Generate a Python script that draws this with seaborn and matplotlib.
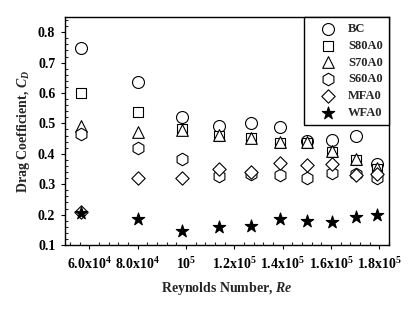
import numpy as np
import pandas as pd
import matplotlib
matplotlib.use("Agg")
import matplotlib.pyplot as plt
from matplotlib.ticker import MultipleLocator, FixedLocator
import seaborn as sns

# ---- data ----
reynolds = [56600, 80000, 98300, 113500, 126800, 138800, 150000, 160300, 170200, 179000]
cd_bc    = [0.749, 0.635, 0.522, 0.491, 0.501, 0.487, 0.441, 0.447, 0.459, 0.365]
cd_s80a0 = [0.600, 0.536, 0.480, 0.459, 0.451, 0.436, 0.437, 0.407, 0.380, 0.350]
cd_s70a0 = [0.491, 0.473, 0.478, 0.462, 0.452, 0.440, 0.440, 0.410, 0.383, 0.352]
cd_s60a0 = [0.464, 0.420, 0.383, 0.327, 0.333, 0.330, 0.319, 0.336, 0.332, 0.322]
cd_mfa0  = [0.210, 0.321, 0.319, 0.349, 0.341, 0.369, 0.363, 0.365, 0.330, 0.334]
cd_wfa0  = [0.205, 0.185, 0.146, 0.160, 0.162, 0.186, 0.180, 0.177, 0.191, 0.199]

series_names = ["BC", "S80A0", "S70A0", "S60A0", "MFA0", "WFA0"]
series_vals = [cd_bc, cd_s80a0, cd_s70a0, cd_s60a0, cd_mfa0, cd_wfa0]

xtick_vals = [60000, 80000, 100000, 120000, 140000, 160000, 180000]
xtick_labels = [r"6.0x10$^{4}$", r"8.0x10$^{4}$", r"10$^{5}$", r"1.2x10$^{5}$",
                r"1.4x10$^{5}$", r"1.6x10$^{5}$", r"1.8x10$^{5}$"]
ytick_vals = [0.1, 0.2, 0.3, 0.4, 0.5, 0.6, 0.7, 0.8]
ytick_labels = ["0.1", "0.2", "0.3", "0.4", "0.5", "0.6", "0.7", "0.8"]

# ---- styles ----
markers = {"BC": "o", "S80A0": "s", "S70A0": "^", "S60A0": "h", "MFA0": "D", "WFA0": "*"}
sizes_pt = {"BC": 8.6, "S80A0": 7.3, "S70A0": 8.4, "S60A0": 9.0, "MFA0": 6.8, "WFA0": 9.4}

sns.set_style("ticks")
plt.rcParams["font.family"] = ["Liberation Serif", "DejaVu Serif"]
plt.rcParams["font.weight"] = "bold"
plt.rcParams["mathtext.fontset"] = "custom"
plt.rcParams["mathtext.rm"] = "Liberation Serif:bold"
plt.rcParams["mathtext.bf"] = "Liberation Serif:bold"
plt.rcParams["mathtext.it"] = "Liberation Serif:italic:bold"
plt.rcParams["mathtext.default"] = "rm"

df = pd.DataFrame({"Re": np.repeat([reynolds], len(series_names), axis=0).ravel(),
                   "Cd": np.concatenate(series_vals),
                   "series": np.repeat(series_names, len(reynolds))})

fig = plt.figure(figsize=(4.15, 3.10), dpi=100)
ax = fig.add_axes([65 / 415, 1 - 245 / 310, (389 - 65) / 415, (245 - 17) / 310])

for name in series_names:
    sub = df[df["series"] == name]
    filled = name == "WFA0"
    sns.scatterplot(data=sub, x="Re", y="Cd", ax=ax, marker=markers[name],
                    s=sizes_pt[name] ** 2,
                    facecolor="black" if filled else "white",
                    edgecolor="black", linewidth=0.8, label=name, zorder=3)

ax.set_xlim(50000, 184000)
ax.set_ylim(0.1, 0.85)
ax.set_xticks(xtick_vals)
ax.set_xticklabels(xtick_labels)
ax.xaxis.set_minor_locator(MultipleLocator(4000))
ax.set_yticks(ytick_vals)
ax.set_yticklabels(ytick_labels)
ax.yaxis.set_minor_locator(MultipleLocator(0.02))

ax.tick_params(axis="both", which="major", direction="out", length=3, width=0.8,
               labelsize=10, pad=4, colors="black")
ax.tick_params(axis="both", which="minor", direction="in", length=2.5, width=0.8)
ax.tick_params(axis="x", which="major", pad=5)
for lbl in ax.get_xticklabels() + ax.get_yticklabels():
    lbl.set_fontweight("bold")

for sp in ax.spines.values():
    sp.set_visible(True)
    sp.set_linewidth(1.0)
    sp.set_color("black")

ax.set_xlabel(r"Reynolds Number, $\mathit{Re}$", fontsize=10, fontweight="bold", labelpad=6)
ax.set_ylabel(r"Drag Coefficient, $\mathit{C_D}$", fontsize=10, fontweight="bold", labelpad=4)

leg = ax.legend(loc="upper right", borderaxespad=0, frameon=True, fancybox=False,
                edgecolor="black", framealpha=1, fontsize=9, handlelength=2.8,
                handletextpad=0.2, labelspacing=0.38, borderpad=0.5)
leg.get_frame().set_linewidth(1.0)
for t in leg.get_texts():
    t.set_fontweight("bold")

fig.savefig("out.png", dpi=100)
